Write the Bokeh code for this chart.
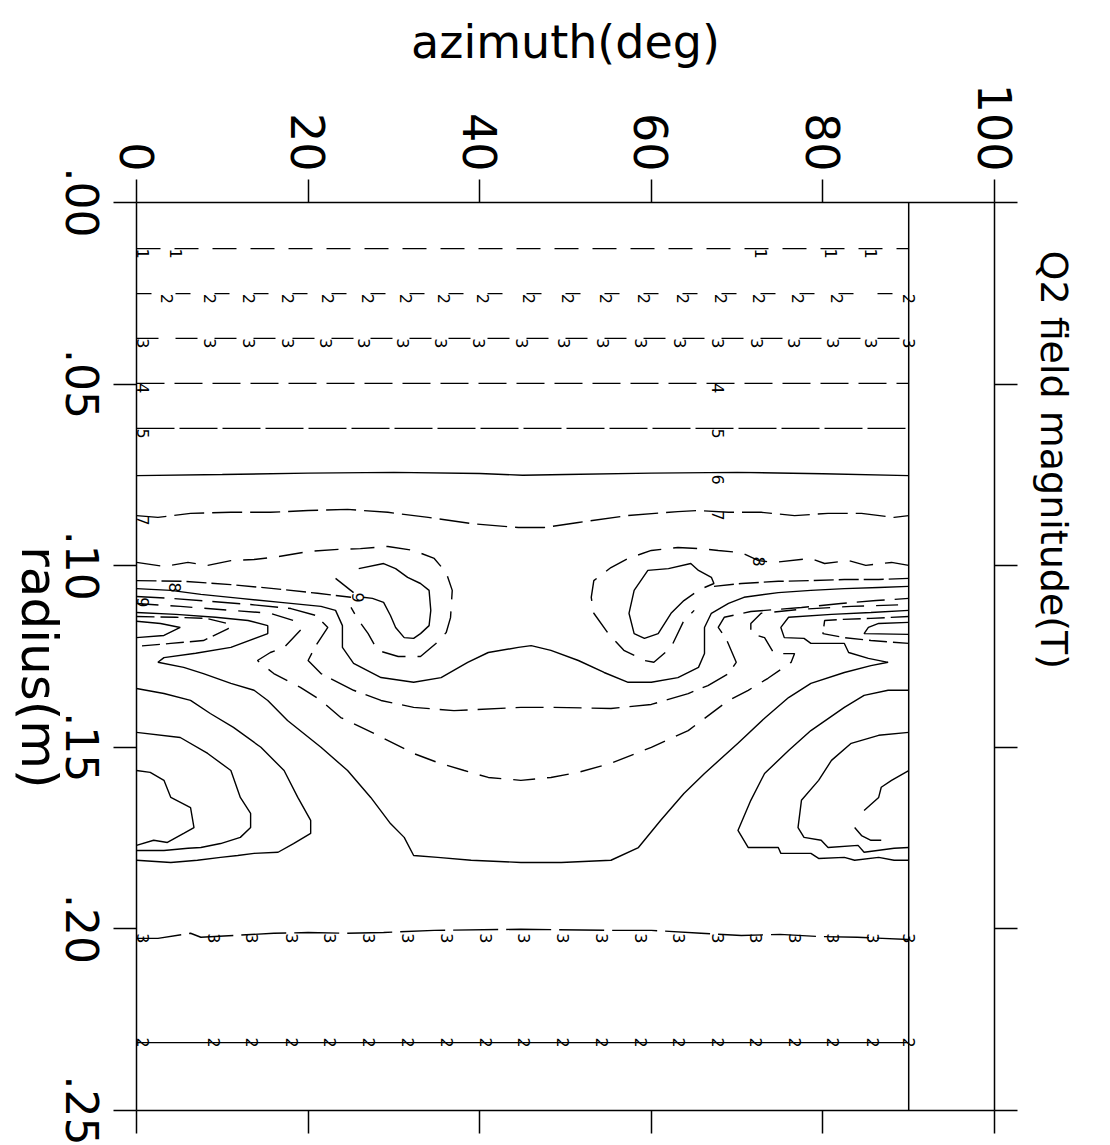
import math
from bokeh.plotting import figure
from bokeh.layouts import row
from bokeh.models import Range1d, LinearAxis, FixedTicker, ColumnDataSource, LabelSet, Title
from bokeh.core.properties import value
from bokeh.embed import file_html
from bokeh.resources import INLINE

# ---------------- axes ----------------
AZ_TICKS = [0, 20, 40, 60, 80, 100]
R_TICKS = [0.0, 0.05, 0.10, 0.15, 0.20, 0.25]
R_TICK_LABELS = [".00", ".05", ".10", ".15", ".20", ".25"]
AZ_DATA_MAX = 90  # contour data stop at 90 deg
X_TITLE = "azimuth(deg)"
Y_TITLE = "radius(m)"
MAIN_TITLE = "Q2 field magnitude(T)"

# ---------------- flat contours (level -> radius) ----------------
flat_levels = [1, 2, 3, 4, 5]
flat_radius = [0.0127, 0.0251, 0.0374, 0.0498, 0.0622]

c6_az = [0, 10, 20, 30, 40, 45, 50, 60, 70, 80, 90]
c6_r = [0.0752, 0.0749, 0.0745, 0.0743, 0.0746, 0.0751, 0.0749, 0.0745, 0.0743, 0.0747, 0.0752]

c7_az = [0, 2.5, 6.3, 11.0, 15.6, 20.0, 24.6, 29.3, 34.0, 39.0, 44.5, 47.5, 51.5, 57.3, 63.1, 65.5, 69.0, 72.8, 76.7, 80.6, 84.5, 88.3, 90]
c7_r = [.0862, .0867, .0856, .0853, .0853, .0848, .0845, .0853, .0867, .0884, .0895, .0895, .0881, .0862, .0851, .0848, .0853, .0853, .0862, .0856, .0856, .0867, .0862]

c8L_az = [0, 3.2, 6.0, 8.3, 11.0, 13.7, 16.5, 20.0, 23.5, 26.1, 29.3, 32.3, 34.7, 36.1, 36.8, 36.6, 36.1, 34.9, 33.1, 30.5, 28.1, 27.0, 25.9, 25.0]
c8L_r = [.0991, .1002, .0991, .0999, .0986, .0983, .0975, .0961, .0955, .0953, .0947, .0958, .0980, .1019, .1068, .1143, .1184, .1214, .1250, .1250, .1233, .1187, .1151, .1115]

c8R_az = [90, 88.0, 85.0, 83.0, 80.2, 78.6, 74.3, 72.5, 70.5, 67.8, 65.8, 63.1, 60.0, 57.3, 55.3, 53.3, 53.0, 53.3, 55.0, 56.8, 59.2, 60.3, 62.3, 63.8, 65.0]
c8R_r = [.0999, .0991, .0999, .0986, .0994, .0980, .0991, .0986, .0964, .0958, .0953, .0950, .0958, .0980, .1005, .1041, .1087, .1131, .1187, .1233, .1261, .1266, .1225, .1151, .1123]

c9L_az = [25.9, 28.8, 30.2, 31.6, 33.1, 34.1, 34.3, 34.1, 33.1, 32.3, 31.2, 30.2, 29.6, 28.8, 27.5, 26.4]
c9L_r = [.1008, .0994, .1008, .1032, .1049, .1068, .1123, .1165, .1187, .1200, .1198, .1170, .1137, .1101, .1090, .1087]

c9R_az = [66.2, 67.3, 67.0, 65.5, 64.6, 62.0, 59.6, 58.0, 57.4, 58.0, 59.2, 60.8, 62.3, 63.8, 65.0]
c9R_r = [.1060, .1049, .1032, .1013, .0994, .1008, .1013, .1068, .1131, .1187, .1200, .1187, .1131, .1096, .1076]

to9L_az = [0, 5.5, 11.0, 16.0, 21.1, 23.2, 25.0]
to9L_r = [.1041, .1043, .1052, .1063, .1076, .1082, .1087]
tail9L_az = [23.2, 25.3]
tail9L_r = [.1035, .1074]
to9R_az = [90, 86.5, 82.5, 78.6, 74.8, 70.5, 67.3]
to9R_r = [.1035, .1038, .1038, .1041, .1043, .1049, .1057]

hump_az = [0, 4.0, 7.5, 12.1, 16.8, 21.5, 23.2, 24.0, 24.0, 25.3, 28.5, 32.3, 35.5, 38.6, 41.0, 44.5, 46.0, 48.3, 51.5, 54.5, 57.3, 60.0, 63.1, 65.5, 66.2, 66.2, 67.0, 69.0, 70.8, 74.8, 78.6, 82.5, 86.5, 90]
hump_r = [.1063, .1068, .1079, .1090, .1101, .1112, .1123, .1165, .1225, .1269, .1308, .1321, .1308, .1266, .1239, .1225, .1220, .1233, .1261, .1294, .1321, .1321, .1308, .1280, .1242, .1170, .1131, .1104, .1087, .1074, .1068, .1063, .1060, .1057]

cF_az = [0, 4.0, 8.6, 13.3, 18.0, 20.9, 22.3, 20.9, 20.0, 21.5, 25.3, 28.5, 32.3, 37.0, 44.8, 48.3, 55.3, 60.0, 64.3, 66.6, 69.0, 69.9, 69.3, 68.7, 67.8, 68.5, 71.6, 77.5, 82.1, 86.2, 90]
cF_r = [.1085, .1090, .1098, .1107, .1118, .1137, .1170, .1220, .1261, .1297, .1343, .1371, .1390, .1399, .1390, .1390, .1393, .1382, .1352, .1330, .1297, .1266, .1233, .1200, .1170, .1142, .1126, .1115, .1104, .1096, .1090]

cE_az = [0, 5.1, 11.0, 15.6, 18.3, 19.1, 17.2, 15.6, 14.1, 16.0, 19.1, 21.5, 23.8, 27.7, 32.3, 35.1, 38.2, 41.0, 44.8, 48.3, 51.5, 55.3, 60.0, 64.3, 69.0, 71.3, 73.6, 76.3, 76.7, 74.3, 73.2, 71.6, 71.6, 72.8, 77.5, 83.3, 90]
cE_r = [.1104, .1112, .1123, .1131, .1151, .1178, .1225, .1239, .1261, .1297, .1335, .1371, .1418, .1462, .1517, .1542, .1564, .1583, .1591, .1583, .1569, .1544, .1500, .1454, .1371, .1343, .1310, .1266, .1242, .1242, .1198, .1187, .1159, .1131, .1120, .1112, .1107]

cD_az = [0, 4.6, 9.2, 13.0, 15.3, 15.3, 11.0, 6.9, 3.2, 2.5, 5.5, 7.8, 11.0, 13.7, 15.3, 17.6, 21.5, 24.6, 27.3, 29.6, 31.2, 32.3, 35.1, 39.0, 44.8, 49.5, 55.3, 58.5, 61.1, 63.8, 66.2, 70.1, 73.2, 76.0, 78.6, 82.5, 85.6, 87.6, 85.3, 83.0, 82.5, 78.6, 77.8, 75.5, 75.1, 76.0, 81.0, 85.6, 90]
cD_r = [.1129, .1134, .1142, .1151, .1165, .1187, .1225, .1241, .1253, .1266, .1280, .1297, .1324, .1343, .1371, .1426, .1500, .1564, .1638, .1710, .1748, .1798, .1803, .1811, .1817, .1817, .1811, .1776, .1701, .1627, .1572, .1489, .1420, .1363, .1324, .1294, .1275, .1266, .1255, .1239, .1214, .1214, .1200, .1198, .1170, .1142, .1134, .1129, .1123]

v1L_az = [0, 4.6, 8.1, 10.6, 10.7, 7.8, 4.0, 0]
v1L_r = [.1140, .1142, .1145, .1159, .1173, .1206, .1214, .1222]
v2L_az = [0, 2.8, 5.1, 3.2, 0]
v2L_r = [.1153, .1159, .1170, .1192, .1198]
v1R_az = [90, 85.6, 82.1, 80.2, 80.0, 82.5, 85.6, 90]
v1R_r = [.1140, .1145, .1148, .1151, .1187, .1198, .1206, .1214]
v2R_az = [90, 86.5, 85.3, 84.8, 90]
v2R_r = [.1156, .1159, .1170, .1187, .1189]

lobeC_az = [0, 3.2, 6.3, 8.6, 11.3, 14.5, 17.2, 18.8, 20.3, 20.3, 18.3, 16.5, 13.7, 11.8, 9.8, 7.1, 4.0, 0]
lobeC_r = [.1338, .1352, .1371, .1407, .1445, .1500, .1564, .1638, .1701, .1737, .1765, .1789, .1792, .1798, .1803, .1811, .1817, .1811]
lobeA_az = [0, 5.1, 8.3, 11.0, 12.1, 13.3, 13.3, 12.1, 9.8, 7.5, 6.0, 3.2, 0]
lobeA_r = [.1459, .1473, .1517, .1564, .1638, .1682, .1721, .1748, .1765, .1776, .1778, .1784, .1784]
lobeB_az = [0, 1.6, 3.2, 4.0, 6.3, 6.7, 5.5, 3.6, 2.0, 0]
lobeB_r = [.1564, .1569, .1591, .1638, .1666, .1721, .1737, .1762, .1756, .1770]
lobeG_az = [90, 87.6, 84.8, 82.5, 78.6, 76.0, 73.2, 71.6, 70.1, 71.3, 74.8, 75.1, 78.6, 79.5, 82.5, 83.7, 86.5, 88.3, 90]
lobeG_r = [.1343, .1343, .1357, .1390, .1454, .1509, .1572, .1646, .1729, .1776, .1776, .1792, .1792, .1806, .1803, .1811, .1803, .1811, .1811]
lobeH_az = [90, 86.5, 83.3, 81.0, 79.5, 77.5, 77.1, 77.8, 79.8, 80.6, 84.1, 84.8, 88.3, 90]
lobeH_r = [.1459, .1467, .1489, .1536, .1591, .1646, .1721, .1748, .1756, .1776, .1770, .1789, .1778, .1776]
lobeI_az = [90, 88.0, 86.8, 86.5, 84.8]
lobeI_r = [.1564, .1591, .1610, .1638, .1674]
hookI_az = [83.7, 84.5, 85.6, 86.8]
hookI_r = [.1721, .1743, .1756, .1756]

c3low_az = [0, 2.5, 6.3, 7.5, 11.4, 16.0, 20.0, 24.2, 28.8, 34.7, 44.8, 55.3, 60.0, 65.8, 70.5, 75.0, 79.5, 84.0, 90.0]
c3low_r = [.2026, .2026, .2012, .2023, .2018, .2012, .2010, .2012, .2010, .2004, .2001, .2004, .2004, .2012, .2018, .2015, .2021, .2023, .2029]
c2low_r = 0.2313

# ---------------- contour labels ----------------
lab1_az = [0.8, 4.6, 72.8, 81.0, 85.6]
lab2_az = [3.6, 8.6, 13.1, 17.7, 22.3, 27.0, 31.4, 35.8, 40.4, 45.7, 50.3, 54.7, 59.2, 63.7, 68.1, 72.6, 77.1, 81.6, 90.0]
lab3_az = [0.8, 8.6, 13.1, 17.6, 22.1, 26.5, 31.1, 35.5, 39.9, 44.9, 49.8, 54.4, 58.8, 63.3, 67.8, 72.3, 76.6, 81.2, 85.6, 90.0]
lab4_az = [0.8, 67.8]
lab5_az = [0.8, 67.8]
lab6_az = [67.8]
lab7_az = [0.8, 67.8]
lab7_r = [.0862, .0848]
lab8_az = [4.5, 72.5]
lab8_r = [.1046, .0975]
lab9_az = [0.8, 25.8]
lab9_r = [.1087, .1074]
lablow_az = [0.8, 9.0, 13.5, 18.1, 22.6, 27.1, 31.6, 36.2, 40.7, 45.2, 49.7, 54.3, 58.8, 63.2, 67.8, 72.2, 76.8, 81.2, 85.8, 90.0]

# ---------------- geometry (pixels) ----------------
W, H = 1110, 1145
LEFT_W = 108            # narrow strip holding the rotated radius labels
FRAME_LEFT, FRAME_RIGHT_BORDER = 136, 116
FRAME_TOP, FRAME_BOTTOM_BORDER = 202, 35
FONT = "DejaVu Sans"

# ---------------- main figure ----------------
p = figure(width=W - LEFT_W, height=H, x_range=Range1d(0, 100), y_range=Range1d(0.25, 0),
           x_axis_location="above", toolbar_location=None, output_backend="svg",
           min_border_left=FRAME_LEFT - LEFT_W, min_border_right=FRAME_RIGHT_BORDER,
           min_border_top=FRAME_TOP, min_border_bottom=FRAME_BOTTOM_BORDER)
p.outline_line_color = None
p.grid.visible = False
p.background_fill_color = "white"
p.border_fill_color = "white"


def style_axis(ax, ticks, show_labels):
    ax.ticker = FixedTicker(ticks=ticks)
    ax.major_tick_out = 23
    ax.major_tick_in = 0
    ax.minor_tick_out = 0
    ax.minor_tick_in = 0
    ax.axis_line_color = "black"
    ax.axis_line_width = 1.5
    ax.major_tick_line_color = "black"
    ax.major_tick_line_width = 1.5
    if not show_labels:
        ax.major_label_text_font_size = "1px"
        ax.major_label_text_color = None
        ax.major_label_standoff = 0


top = p.xaxis[0]
style_axis(top, AZ_TICKS, True)
top.major_label_orientation = -math.pi / 2
top.major_label_standoff = 8
top.major_label_text_font = FONT
top.major_label_text_font_size = "46px"
top.major_label_text_color = "black"
top.axis_label = X_TITLE
top.axis_label_text_font = FONT
top.axis_label_text_font_size = "46px"
top.axis_label_text_font_style = "normal"
top.axis_label_text_color = "black"
top.axis_label_standoff = 12

left = p.yaxis[0]
style_axis(left, R_TICKS, False)

bottom = LinearAxis()
style_axis(bottom, AZ_TICKS, False)
p.add_layout(bottom, "below")
right = LinearAxis()
style_axis(right, R_TICKS, False)
p.add_layout(right, "right")

p.add_layout(Title(text=MAIN_TITLE, align="left", offset=48, text_font=FONT, text_font_size="38px",
                   text_font_style="normal", text_color="black", standoff=29), "right")

# inner data box right edge
p.line([AZ_DATA_MAX, AZ_DATA_MAX], [0, 0.25], line_color="black", line_width=1.5)

LW = 1.4
flat_dash = {1: "24 14", 2: "15 24", 3: "22 17", 4: "28 10", 5: "38 5"}
for lev, rr in zip(flat_levels, flat_radius):
    p.line([0, AZ_DATA_MAX], [rr, rr], line_color="black", line_width=LW, line_dash=flat_dash[lev])

curves = [
    (c6_az, c6_r, "solid"),
    (c7_az, c7_r, "30 8"),
    (c8L_az, c8L_r, "24 12"),
    (c8R_az, c8R_r, "24 12"),
    (c9L_az, c9L_r, "solid"),
    (c9R_az, c9R_r, "solid"),
    (to9L_az, to9L_r, "20 5"),
    (tail9L_az, tail9L_r, "solid"),
    (to9R_az, to9R_r, "20 5"),
    (hump_az, hump_r, "solid"),
    (cF_az, cF_r, "28 10"),
    (cE_az, cE_r, "22 12"),
    (cD_az, cD_r, "solid"),
    (v1L_az, v1L_r, "18 6"),
    (v2L_az, v2L_r, "solid"),
    (v1R_az, v1R_r, "18 6"),
    (v2R_az, v2R_r, "solid"),
    (lobeC_az, lobeC_r, "solid"),
    (lobeA_az, lobeA_r, "solid"),
    (lobeB_az, lobeB_r, "solid"),
    (lobeG_az, lobeG_r, "solid"),
    (lobeH_az, lobeH_r, "solid"),
    (lobeI_az, lobeI_r, "solid"),
    (hookI_az, hookI_r, "solid"),
    (c3low_az, c3low_r, "45 8"),
    ([0, AZ_DATA_MAX], [c2low_r, c2low_r], "solid"),
]
for xs, ys, dash in curves:
    p.line(xs, ys, line_color="black", line_width=LW, line_dash=dash)

# contour labels hanging below their line
hx, hy, ht = [], [], []


def add_labels(azs, rs, txt):
    if not isinstance(rs, list):
        rs = [rs] * len(azs)
    for a, r in zip(azs, rs):
        hx.append(a)
        hy.append(r)
        ht.append(txt)


add_labels(lab1_az, flat_radius[0], "1")
add_labels(lab2_az, flat_radius[1], "2")
add_labels(lab3_az, flat_radius[2], "3")
add_labels(lab4_az, flat_radius[3], "4")
add_labels(lab5_az, flat_radius[4], "5")
add_labels(lab6_az, 0.0749, "6")
add_labels(lab7_az, lab7_r, "7")
add_labels(lab8_az, lab8_r, "8")
add_labels(lab9_az, lab9_r, "9")
add_labels(lablow_az, 0.2012, "3")
hsrc = ColumnDataSource(dict(x=hx, y=hy, t=ht))
p.add_layout(LabelSet(x="x", y="y", text="t", source=hsrc, angle=-math.pi / 2,
                      text_align="left", text_baseline="middle",
                      text_font=value(FONT), text_font_size="16px", text_color="black"))

csrc = ColumnDataSource(dict(x=lablow_az, y=[c2low_r] * len(lablow_az), t=["2"] * len(lablow_az)))
p.add_layout(LabelSet(x="x", y="y", text="t", source=csrc, angle=-math.pi / 2,
                      text_align="center", text_baseline="middle",
                      text_font=value(FONT), text_font_size="16px", text_color="black"))

# ---------------- left strip: rotated radius tick labels and title, same radius scale ----------------
px_per_r = (H - FRAME_TOP - FRAME_BOTTOM_BORDER) / 0.25
r_top = -FRAME_TOP / px_per_r
r_bottom = 0.25 + FRAME_BOTTOM_BORDER / px_per_r
pl = figure(width=LEFT_W, height=H, x_range=Range1d(0, LEFT_W), y_range=Range1d(r_bottom, r_top),
            toolbar_location=None, output_backend="svg", min_border=0,
            x_axis_location=None, y_axis_location=None)
pl.outline_line_color = None
pl.grid.visible = False
pl.background_fill_color = "white"
pl.border_fill_color = "white"
for fig in (pl, p):
    try:
        fig.frame_align = False
    except Exception:
        pass
TICK_LABEL_X = 82
TITLE_X = 38
pl.text(x=[TICK_LABEL_X] * len(R_TICKS), y=R_TICKS, text=R_TICK_LABELS, angle=-math.pi / 2,
        text_align="center", text_baseline="middle", text_font=value(FONT),
        text_font_size=value("44px"), text_color="black")
pl.text(x=[TITLE_X], y=[0.128], text=[Y_TITLE], angle=-math.pi / 2,
        text_align="center", text_baseline="middle", text_font=value(FONT),
        text_font_size=value("50px"), text_color="black")

layout = row(pl, p)
open("out.html", "w").write(file_html(layout, INLINE))
